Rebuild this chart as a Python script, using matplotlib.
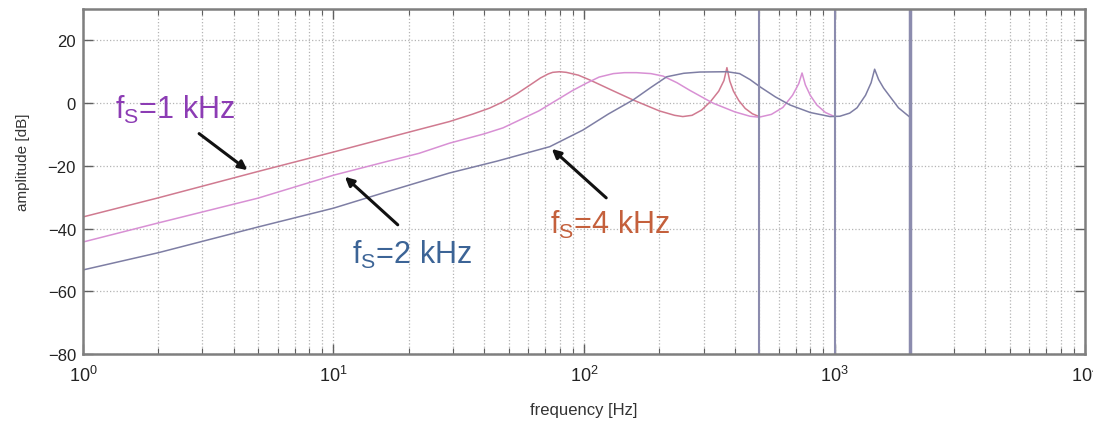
import matplotlib
matplotlib.use('Agg')
import matplotlib.pyplot as plt

plt.rcParams['font.family'] = ['Liberation Sans', 'DejaVu Sans']
plt.rcParams['mathtext.fontset'] = 'custom'
plt.rcParams['mathtext.rm'] = 'Liberation Sans'

# fs = 1 kHz (top curve)
f_1k = [1, 2, 5, 10, 16, 22, 29, 36, 42, 47.5, 54, 61, 67, 72, 75, 80, 85, 95, 106,
        130, 157, 200, 230, 248, 270, 295, 320, 345, 362, 372, 382, 395, 415, 440,
        470, 500]
db_1k = [-36.3, -30.2, -21.8, -15.6, -11.3, -8.4, -5.9, -3.5, -1.6, 0.4, 3.0, 5.8,
         8.0, 9.3, 9.8, 10.0, 9.8, 8.9, 7.3, 4.0, 1.0, -2.5, -3.9, -4.3, -3.9, -2.2,
         0.5, 3.8, 7.2, 11.3, 7.0, 3.8, 0.8, -1.7, -3.4, -4.3]

# fs = 2 kHz (middle curve)
f_2k = [1, 2, 5, 10, 16, 22, 29, 40, 47.5, 54, 66, 78, 90, 102, 115, 131, 145, 162,
        185, 207, 235, 264, 327, 400, 460, 500, 560, 622, 680, 720, 742, 765, 800,
        850, 920, 1000]
db_2k = [-44.3, -38.2, -30.3, -23.0, -18.8, -16.0, -12.8, -9.8, -7.9, -5.8, -2.5,
         1.0, 4.0, 6.3, 8.3, 9.4, 9.7, 9.7, 9.4, 8.6, 6.5, 4.1, 0.0, -2.8, -4.2, -4.5,
         -3.6, -1.4, 2.5, 6.2, 9.6, 5.8, 2.5, -0.6, -3.0, -4.3]

# fs = 4 kHz (bottom curve)
f_4k = [1, 2, 5, 10, 16, 29, 45, 73, 99, 125, 157, 185, 214, 250, 290, 372, 418,
        460, 504, 580, 664, 800, 960, 1050, 1150, 1230, 1330, 1400, 1446, 1500, 1570,
        1650, 1800, 2000]
db_4k = [-53.2, -47.7, -39.5, -33.5, -28.5, -22.3, -18.5, -13.9, -8.6, -3.5, 1.0, 5.0,
         8.4, 9.5, 9.9, 10.0, 9.4, 7.5, 5.2, 2.0, -0.6, -3.0, -4.3, -4.2, -3.2, -1.5,
         2.5, 6.5, 10.8, 7.5, 4.8, 2.5, -1.5, -4.5]

nyquist = [500, 1000, 2000]
nyq_width = [1.5, 1.5, 2.5]

fig = plt.figure(figsize=(10.93, 4.27), dpi=100)
ax = fig.add_axes([0.0759, 0.1686, 0.9168, 0.808])

ax.semilogx(f_1k, db_1k, color='#d07a90', lw=1.1)
ax.semilogx(f_2k, db_2k, color='#d890d4', lw=1.1)
ax.semilogx(f_4k, db_4k, color='#7e7ea4', lw=1.1)
for x, w in zip(nyquist, nyq_width):
    ax.axvline(x, color='#8c8cae', lw=w)

ax.set_xlim(1, 1e4)
ax.set_ylim(-80, 30)
ax.set_yticks([-80, -60, -40, -20, 0, 20])

# matlab style grid and ticks
ax.grid(True, which='major', ls=':', color='#b4b4b4', lw=0.9)
ax.grid(True, which='minor', axis='x', ls=':', color='#b4b4b4', lw=0.9)
ax.tick_params(which='both', direction='in', top=True, right=True, colors='#606060')
ax.tick_params(which='major', length=7, width=1.0)
ax.tick_params(which='minor', length=4, width=0.8)
ax.tick_params(axis='x', labelsize=13, pad=8, labelcolor='#222222')
ax.tick_params(axis='y', labelsize=12, pad=5, labelcolor='#222222')
for sp in ax.spines.values():
    sp.set_color('#7f7f7f')
    sp.set_linewidth(1.8)

ax.set_xlabel('frequency [Hz]', fontsize=12, color='#333333')
ax.set_ylabel('amplitude [dB]', fontsize=11, color='#333333')
ax.xaxis.set_label_coords(0.5, -0.14)
ax.yaxis.set_label_coords(-0.053, 0.56)

# labels with arrows
arrow = dict(arrowstyle='-|>', color='#111111', lw=2.2, mutation_scale=13)
ax.annotate('', xy=(4.63, -21.9), xytext=(2.85, -9.2), arrowprops=arrow)
ax.annotate('', xy=(10.9, -22.9), xytext=(18.4, -39.4), arrowprops=arrow)
ax.annotate('', xy=(73, -14.0), xytext=(125, -30.8), arrowprops=arrow)

ax.text(1.34, -4.8, r'f$_\mathregular{S}$=1 kHz', color='#8c3cb4', fontsize=22, va='baseline')
ax.text(11.9, -50.8, r'f$_\mathregular{S}$=2 kHz', color='#3c6496', fontsize=22, va='baseline')
ax.text(73, -41.3, r'f$_\mathregular{S}$=4 kHz', color='#c4603c', fontsize=22, va='baseline')

fig.savefig('out.png', dpi=100)
